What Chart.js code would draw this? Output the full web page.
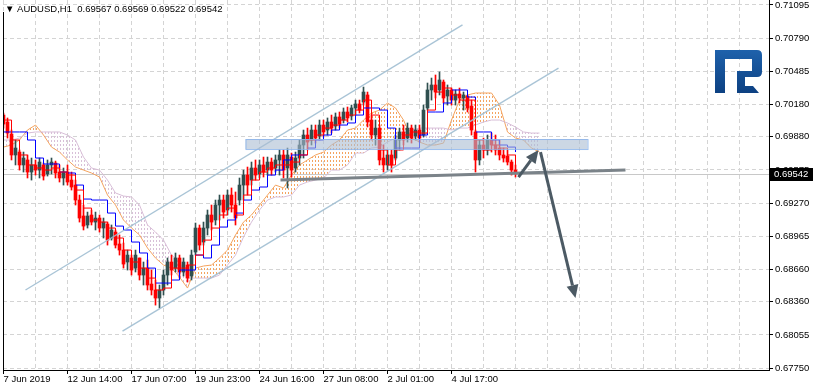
<!DOCTYPE html>
<html>
<head>
<meta charset="utf-8">
<script src="https://cdn.jsdelivr.net/npm/chart.js@4.4.1/dist/chart.umd.min.js"></script>
<style>
  html, body { margin: 0; padding: 0; background: #fff; }
  canvas { display: block; }
</style>
</head>
<body>
<canvas id="chart" width="815" height="391"></canvas>
<script>
// AUDUSD H1, every candle here stands for 4 hours of the window
const candleOpen = [
  0.70081, 0.70017, 0.69906, 0.69713, 0.69740, 0.69621, 0.69667, 0.69556, 0.69621, 0.69574,
  0.69621, 0.69538, 0.69621, 0.69639, 0.69556, 0.69501, 0.69556, 0.69482, 0.69436, 0.69298,
  0.69151, 0.69068, 0.69160, 0.69095, 0.69132, 0.69040, 0.69077, 0.68948, 0.69003, 0.68893,
  0.68837, 0.68727, 0.68764, 0.68671, 0.68764, 0.68607, 0.68671, 0.68524, 0.68469, 0.68395,
  0.68469, 0.68607, 0.68727, 0.68671, 0.68764, 0.68635, 0.68699, 0.68598, 0.68819, 0.69040,
  0.68911, 0.69040, 0.69160, 0.69114, 0.69252, 0.69298, 0.69206, 0.69344, 0.69252, 0.69298,
  0.69436, 0.69528, 0.69482, 0.69593, 0.69538, 0.69621, 0.69574, 0.69648, 0.69593, 0.69667,
  0.69713, 0.69593, 0.69694, 0.69593, 0.69685, 0.69805, 0.69897, 0.69851, 0.69943, 0.69888,
  0.69989, 0.69943, 0.70017, 0.69980, 0.70063, 0.70035, 0.70109, 0.70072, 0.70146, 0.70183,
  0.70201, 0.70266, 0.70035, 0.69897, 0.69961, 0.69685, 0.69621, 0.69713, 0.69685, 0.69851,
  0.69925, 0.69869, 0.69961, 0.69888, 0.69943, 0.69897, 0.70146, 0.70312, 0.70358, 0.70312,
  0.70385, 0.70256, 0.70312, 0.70219, 0.70275, 0.70238, 0.70256, 0.70164, 0.69925, 0.69667,
  0.69805, 0.69759, 0.69851, 0.69805, 0.69777, 0.69713, 0.69703, 0.69648, 0.69574
];
const candleHigh = [
  0.70100, 0.70054, 0.69943, 0.69851, 0.69759, 0.69740, 0.69713, 0.69685, 0.69667, 0.69685,
  0.69639, 0.69667, 0.69685, 0.69657, 0.69621, 0.69593, 0.69621, 0.69556, 0.69482, 0.69344,
  0.69252, 0.69187, 0.69206, 0.69187, 0.69160, 0.69132, 0.69095, 0.69068, 0.69022, 0.68976,
  0.68902, 0.68837, 0.68791, 0.68837, 0.68764, 0.68727, 0.68745, 0.68653, 0.68561, 0.68515,
  0.68653, 0.68764, 0.68791, 0.68810, 0.68791, 0.68764, 0.68727, 0.68837, 0.69086, 0.69068,
  0.69095, 0.69206, 0.69252, 0.69298, 0.69344, 0.69344, 0.69390, 0.69409, 0.69372, 0.69501,
  0.69574, 0.69602, 0.69648, 0.69667, 0.69667, 0.69694, 0.69694, 0.69685, 0.69713, 0.69759,
  0.69759, 0.69777, 0.69731, 0.69740, 0.69851, 0.69943, 0.69961, 0.69989, 0.69989, 0.70035,
  0.70035, 0.70054, 0.70081, 0.70100, 0.70109, 0.70146, 0.70155, 0.70173, 0.70219, 0.70219,
  0.70339, 0.70293, 0.70081, 0.70035, 0.69989, 0.69805, 0.69759, 0.69759, 0.69897, 0.69961,
  0.69989, 0.70008, 0.69989, 0.69989, 0.69989, 0.70173, 0.70376, 0.70422, 0.70450, 0.70478,
  0.70404, 0.70358, 0.70330, 0.70312, 0.70330, 0.70293, 0.70266, 0.70219, 0.69943, 0.69851,
  0.69869, 0.69897, 0.69915, 0.69897, 0.69851, 0.69777, 0.69759, 0.69667, 0.69621
];
const candleLow = [
  0.69961, 0.69869, 0.69667, 0.69621, 0.69574, 0.69556, 0.69501, 0.69482, 0.69528, 0.69501,
  0.69482, 0.69519, 0.69538, 0.69501, 0.69464, 0.69436, 0.69436, 0.69390, 0.69252, 0.69095,
  0.69022, 0.69040, 0.69068, 0.69022, 0.69003, 0.68948, 0.68883, 0.68929, 0.68856, 0.68791,
  0.68671, 0.68653, 0.68607, 0.68635, 0.68561, 0.68515, 0.68469, 0.68423, 0.68330, 0.68303,
  0.68423, 0.68515, 0.68607, 0.68635, 0.68579, 0.68598, 0.68542, 0.68561, 0.68791, 0.68837,
  0.68883, 0.68976, 0.69022, 0.69068, 0.69114, 0.69132, 0.69160, 0.69187, 0.69068, 0.69252,
  0.69298, 0.69344, 0.69436, 0.69482, 0.69501, 0.69510, 0.69528, 0.69528, 0.69556, 0.69528,
  0.69501, 0.69409, 0.69510, 0.69556, 0.69621, 0.69685, 0.69759, 0.69805, 0.69823, 0.69851,
  0.69879, 0.69897, 0.69915, 0.69943, 0.69961, 0.70008, 0.70017, 0.70035, 0.70081, 0.70100,
  0.70173, 0.69971, 0.69851, 0.69805, 0.69621, 0.69556, 0.69574, 0.69556, 0.69667, 0.69759,
  0.69805, 0.69832, 0.69823, 0.69851, 0.69832, 0.69879, 0.70127, 0.70219, 0.70238, 0.70266,
  0.70192, 0.70173, 0.70173, 0.70173, 0.70192, 0.70127, 0.70109, 0.69897, 0.69556, 0.69621,
  0.69685, 0.69713, 0.69740, 0.69713, 0.69667, 0.69648, 0.69621, 0.69528, 0.69510
];
const candleClose = [
  0.69998, 0.69915, 0.69713, 0.69777, 0.69621, 0.69685, 0.69556, 0.69621, 0.69574, 0.69648,
  0.69519, 0.69621, 0.69648, 0.69547, 0.69501, 0.69556, 0.69464, 0.69418, 0.69298, 0.69132,
  0.69058, 0.69151, 0.69095, 0.69132, 0.69040, 0.69095, 0.68929, 0.69022, 0.68883, 0.68837,
  0.68708, 0.68791, 0.68653, 0.68791, 0.68607, 0.68671, 0.68515, 0.68469, 0.68395, 0.68469,
  0.68607, 0.68727, 0.68653, 0.68764, 0.68635, 0.68727, 0.68579, 0.68791, 0.69040, 0.68883,
  0.69040, 0.69160, 0.69095, 0.69252, 0.69298, 0.69187, 0.69344, 0.69252, 0.69132, 0.69436,
  0.69528, 0.69436, 0.69593, 0.69528, 0.69621, 0.69556, 0.69648, 0.69574, 0.69667, 0.69713,
  0.69574, 0.69713, 0.69574, 0.69685, 0.69805, 0.69897, 0.69832, 0.69943, 0.69869, 0.69989,
  0.69925, 0.70017, 0.69961, 0.70063, 0.69998, 0.70109, 0.70054, 0.70146, 0.70183, 0.70127,
  0.70293, 0.70017, 0.69897, 0.69961, 0.69667, 0.69621, 0.69713, 0.69621, 0.69851, 0.69925,
  0.69851, 0.69961, 0.69869, 0.69943, 0.69869, 0.70127, 0.70312, 0.70358, 0.70293, 0.70404,
  0.70238, 0.70312, 0.70219, 0.70275, 0.70238, 0.70266, 0.70146, 0.69943, 0.69667, 0.69805,
  0.69759, 0.69851, 0.69805, 0.69759, 0.69713, 0.69685, 0.69648, 0.69574, 0.69542
];
const candleHours = 4;

// ichimoku, one value every 8 hours; the cloud runs 26 hours past the last candle
const tenkan = [
  0.70035, 0.69851, 0.69713, 0.69621, 0.69593, 0.69574, 0.69593, 0.69556, 0.69528, 0.69390,
  0.69224, 0.69114, 0.69095, 0.69040, 0.68948, 0.68837, 0.68727, 0.68671, 0.68579, 0.68469,
  0.68487, 0.68671, 0.68671, 0.68699, 0.68791, 0.68929, 0.69040, 0.69160, 0.69224, 0.69160,
  0.69344, 0.69482, 0.69556, 0.69593, 0.69621, 0.69621, 0.69648, 0.69713, 0.69851, 0.69897,
  0.69961, 0.69989, 0.70035, 0.70081, 0.70127, 0.70219, 0.70081, 0.69759, 0.69621, 0.69759,
  0.69897, 0.69925, 0.69915, 0.70127, 0.70293, 0.70330, 0.70266, 0.70219, 0.70219, 0.69851,
  0.69759, 0.69805, 0.69777, 0.69713, 0.69621
];
const kijun = [
  0.69925, 0.69925, 0.69925, 0.69851, 0.69685, 0.69630, 0.69630, 0.69556, 0.69547, 0.69436,
  0.69307, 0.69298, 0.69298, 0.69178, 0.69058, 0.69022, 0.68911, 0.68810, 0.68671, 0.68533,
  0.68533, 0.68561, 0.68653, 0.68653, 0.68791, 0.68764, 0.68883, 0.69049, 0.69114, 0.69178,
  0.69298, 0.69390, 0.69418, 0.69528, 0.69574, 0.69667, 0.69713, 0.69713, 0.69777, 0.69851,
  0.69897, 0.69943, 0.69989, 0.70008, 0.70081, 0.70146, 0.70146, 0.70127, 0.69961, 0.69777,
  0.69777, 0.69777, 0.69897, 0.70109, 0.70109, 0.70192, 0.70312, 0.70312, 0.70247, 0.69925,
  0.69925, 0.69851, 0.69805, 0.69786, 0.69740
];
const senkouA = [
  0.69786, 0.69805, 0.69851, 0.69943, 0.69989, 0.69897, 0.69786, 0.69740, 0.69667, 0.69602,
  0.69574, 0.69547, 0.69510, 0.69344, 0.69252, 0.69114, 0.69040, 0.68976, 0.68856, 0.68764,
  0.68699, 0.68671, 0.68588, 0.68487, 0.68671, 0.68690, 0.68699, 0.68764, 0.68837, 0.68976,
  0.69095, 0.69160, 0.69252, 0.69344, 0.69436, 0.69409, 0.69528, 0.69621, 0.69667, 0.69713,
  0.69740, 0.69805, 0.69851, 0.69943, 0.69961, 0.70035, 0.70100, 0.70127, 0.70192, 0.70146,
  0.70035, 0.69869, 0.69832, 0.69805, 0.69805, 0.69823, 0.70035, 0.70219, 0.70266, 0.70284,
  0.70284, 0.70284, 0.70173, 0.69925, 0.69869, 0.69851, 0.69777, 0.69740
];
const senkouB = [
  0.69851, 0.69851, 0.69869, 0.69915, 0.69925, 0.69925, 0.69925, 0.69925, 0.69897, 0.69851,
  0.69694, 0.69593, 0.69574, 0.69482, 0.69363, 0.69335, 0.69326, 0.69252, 0.69068, 0.69003,
  0.68929, 0.68791, 0.68727, 0.68579, 0.68579, 0.68579, 0.68579, 0.68607, 0.68699, 0.68791,
  0.68957, 0.69095, 0.69206, 0.69298, 0.69326, 0.69326, 0.69344, 0.69436, 0.69464, 0.69482,
  0.69501, 0.69574, 0.69574, 0.69621, 0.69731, 0.69731, 0.69777, 0.69786, 0.69832, 0.69869,
  0.69915, 0.69943, 0.69961, 0.69961, 0.69961, 0.69961, 0.69943, 0.69961, 0.69961, 0.69989,
  0.70017, 0.70035, 0.70035, 0.70008, 0.69971, 0.69925, 0.69915, 0.69915
];
const lineHours = 8;

const xGridHours = [0, 32, 64, 96, 128, 160, 192, 224, 256, 288, 320, 352, 384, 416, 448, 480,
  512, 544, 576, 608, 640, 672, 704, 736];
const xTickHours = [0, 64, 128, 192, 256, 320, 384, 448];
const xTickLabels = ['7 Jun 2019', '12 Jun 14:00', '17 Jun 07:00', '19 Jun 23:00', '24 Jun 16:00',
  '27 Jun 08:00', '2 Jul 01:00', '4 Jul 17:00'];
const yTickValues = [0.71095, 0.70790, 0.70485, 0.70180, 0.69880, 0.69575, 0.69270, 0.68965,
  0.68660, 0.68360, 0.68055, 0.67750];
const lastBar = { open: 0.69567, high: 0.69569, low: 0.69522, close: 0.69542 };

// analyst drawings, as [hour, price]
const channelUpper = [[22, 0.68469], [459, 0.70911]];
const channelLower = [[119, 0.68091], [555, 0.70514]];
const supportLine = [[277, 0.69482], [622, 0.69574]];
const resistanceBox = [[242, 0.69860], [584, 0.69768]];
const arrowUp = [[515, 0.69510], [535, 0.69759]];
const arrowDown = [[537, 0.69740], [572, 0.68395]];

const FONT = '"Liberation Sans", Arial, sans-serif';
const BULL = '#2f4f4f';
const BEAR = '#ff0000';

const canvas = document.getElementById('chart');
const ctx = canvas.getContext('2d');

// dotted vertical hatch like the terminal draws inside the cloud
function hatch(color) {
  const c = document.createElement('canvas');
  c.width = 3; c.height = 4;
  const g = c.getContext('2d');
  g.fillStyle = color;
  g.fillRect(0, 0, 1, 2);
  return ctx.createPattern(c, 'repeat');
}

const candleColor = (c) => {
  const i = c.dataIndex;
  return candleClose[i] >= candleOpen[i] ? BULL : BEAR;
};

const wicks = candleOpen.map((o, i) => ({ x: i * candleHours, y: [candleLow[i], candleHigh[i]] }));
const bodies = candleOpen.map((o, i) => ({ x: i * candleHours, y: [o, candleClose[i]] }));
const asPoints = (arr) => arr.map((v, i) => ({ x: i * lineHours, y: v }));

const px = (chart, p) => ({ x: chart.scales.x.getPixelForValue(p[0]), y: chart.scales.y.getPixelForValue(p[1]) });

function drawArrow(c, a, b, color) {
  const ang = Math.atan2(b.y - a.y, b.x - a.x);
  const head = 13, half = 6;
  const bx = b.x - Math.cos(ang) * head, by = b.y - Math.sin(ang) * head;
  c.strokeStyle = color;
  c.fillStyle = color;
  c.lineWidth = 3;
  c.lineCap = 'butt';
  c.beginPath();
  c.moveTo(a.x, a.y);
  c.lineTo(bx, by);
  c.stroke();
  c.beginPath();
  c.moveTo(b.x, b.y);
  c.lineTo(bx + Math.sin(ang) * half, by - Math.cos(ang) * half);
  c.lineTo(bx - Math.sin(ang) * half, by + Math.cos(ang) * half);
  c.closePath();
  c.fill();
}

function drawLogo(c) {
  const g = c.createLinearGradient(0, 48, 0, 95);
  g.addColorStop(0, '#1f63ad');
  g.addColorStop(1, '#0c3f80');
  c.fillStyle = g;
  c.beginPath();
  c.moveTo(715, 50);
  c.lineTo(757, 50);
  c.quadraticCurveTo(762, 50, 762, 55);
  c.lineTo(762, 72);
  c.quadraticCurveTo(762, 77, 757, 77);
  c.lineTo(745, 77);
  c.lineTo(745, 86);
  c.lineTo(753, 86);
  c.lineTo(759, 93);
  c.lineTo(737, 93);
  c.lineTo(737, 71);
  c.lineTo(752, 71);
  c.lineTo(752, 59);
  c.lineTo(725, 59);
  c.lineTo(725, 93);
  c.lineTo(715, 93);
  c.closePath();
  c.fill();
}

const overlay = {
  id: 'overlay',
  beforeDatasetsDraw(chart) {
    const c = chart.ctx, a = chart.chartArea;
    const y = Math.round(chart.scales.y.getPixelForValue(lastBar.close)) + 0.5;
    c.save();
    c.strokeStyle = '#c8c8c8';
    c.lineWidth = 1;
    c.beginPath();
    c.moveTo(a.left, y);
    c.lineTo(a.right, y);
    c.stroke();
    c.restore();
  },
  afterDatasetsDraw(chart) {
    const c = chart.ctx, a = chart.chartArea;
    c.save();
    c.beginPath();
    c.rect(a.left, a.top, a.right - a.left, a.bottom - a.top);
    c.clip();

    c.strokeStyle = 'rgba(160,190,210,0.9)';
    c.lineWidth = 1.4;
    [channelUpper, channelLower].forEach(l => {
      const p0 = px(chart, l[0]), p1 = px(chart, l[1]);
      c.beginPath(); c.moveTo(p0.x, p0.y); c.lineTo(p1.x, p1.y); c.stroke();
    });

    const b0 = px(chart, resistanceBox[0]), b1 = px(chart, resistanceBox[1]);
    c.fillStyle = 'rgba(170,188,210,0.6)';
    c.fillRect(b0.x, b0.y, b1.x - b0.x, b1.y - b0.y);
    c.strokeStyle = 'rgba(140,180,235,0.85)';
    c.lineWidth = 1;
    c.strokeRect(b0.x + 0.5, b0.y + 0.5, b1.x - b0.x, b1.y - b0.y);

    const s0 = px(chart, supportLine[0]), s1 = px(chart, supportLine[1]);
    c.strokeStyle = '#7b8389';
    c.lineWidth = 3;
    c.beginPath(); c.moveTo(s0.x, s0.y); c.lineTo(s1.x, s1.y); c.stroke();

    drawArrow(c, px(chart, arrowUp[0]), px(chart, arrowUp[1]), '#4c5a64');
    drawArrow(c, px(chart, arrowDown[0]), px(chart, arrowDown[1]), '#4c5a64');
    c.restore();

    // left frame line
    c.save();
    c.strokeStyle = '#000';
    c.lineWidth = 1;
    c.beginPath();
    c.moveTo(a.left + 0.5, a.top + 12);
    c.lineTo(a.left + 0.5, a.bottom);
    c.stroke();
    c.restore();
  },
  afterDraw(chart) {
    const c = chart.ctx;
    c.save();
    drawLogo(c);

    c.fillStyle = '#000';
    c.font = '9.5px ' + FONT;
    c.textBaseline = 'middle';
    c.fillText('\u25BC AUDUSD,H1  ' + lastBar.open.toFixed(5) + ' ' + lastBar.high.toFixed(5) + ' ' +
      lastBar.low.toFixed(5) + ' ' + lastBar.close.toFixed(5), 5, 9);

    const y = Math.round(chart.scales.y.getPixelForValue(lastBar.close));
    c.fillStyle = '#000';
    c.fillRect(770, y - 6, 43, 13);
    c.fillStyle = '#fff';
    c.fillText(lastBar.close.toFixed(5), 774, y + 0.5);
    c.restore();
  }
};

new Chart(ctx, {
  data: {
    datasets: [
      {
        type: 'line', label: 'Senkou A', data: asPoints(senkouA),
        borderColor: '#f4a460', borderWidth: 1, pointRadius: 0, tension: 0,
        fill: { target: '+1', above: hatch('#f4a460'), below: hatch('#d8bfd8') },
        order: 6
      },
      {
        type: 'line', label: 'Senkou B', data: asPoints(senkouB),
        borderColor: '#d8bfd8', borderWidth: 1, pointRadius: 0, tension: 0, fill: false,
        order: 5
      },
      {
        type: 'bar', label: 'wick', data: wicks,
        backgroundColor: candleColor, barThickness: 1, grouped: false, order: 4
      },
      {
        type: 'bar', label: 'body', data: bodies,
        backgroundColor: candleColor, barThickness: 3, grouped: false, order: 3
      },
      {
        type: 'line', label: 'Kijun', data: asPoints(kijun),
        borderColor: '#0000ff', borderWidth: 1, pointRadius: 0, stepped: true, fill: false,
        order: 2
      },
      {
        type: 'line', label: 'Tenkan', data: asPoints(tenkan),
        borderColor: '#ff0000', borderWidth: 1, pointRadius: 0, stepped: true, fill: false,
        order: 1
      }
    ]
  },
  options: {
    responsive: false,
    animation: false,
    devicePixelRatio: 1,
    layout: { padding: { left: 3, right: 0, top: 0, bottom: 0 } },
    plugins: { legend: { display: false }, tooltip: { enabled: false } },
    scales: {
      x: {
        type: 'linear',
        min: -0.5,
        max: 765.5,
        offset: false,
        afterBuildTicks: (s) => { s.ticks = xGridHours.map(v => ({ value: v })); },
        afterFit: (s) => { s.height = 21; s.paddingLeft = 0; s.paddingRight = 0; },
        grid: {
          offset: false,
          color: '#d4d4d4',
          tickLength: 4,
          tickColor: (c) => (c.tick && xTickHours.includes(c.tick.value)) ? '#000' : 'rgba(0,0,0,0)'
        },
        border: { display: true, color: '#000', width: 1, dash: [4, 3] },
        ticks: {
          autoSkip: false,
          maxRotation: 0,
          align: 'start',
          padding: 0,
          color: '#000',
          font: { family: FONT, size: 9.5 },
          callback: (v) => {
            const k = xTickHours.indexOf(v);
            return k >= 0 ? xTickLabels[k] : '';
          }
        }
      },
      y: {
        type: 'linear',
        position: 'right',
        min: 0.67732,
        max: 0.71141,
        beginAtZero: false,
        afterBuildTicks: (s) => { s.ticks = yTickValues.map(v => ({ value: v })); },
        afterFit: (s) => { s.width = 46; s.paddingTop = 0; s.paddingBottom = 0; },
        grid: { color: '#d4d4d4', tickLength: 4, tickColor: '#000' },
        border: { display: true, color: '#000', width: 1, dash: [4, 3] },
        ticks: {
          padding: 2,
          color: '#000',
          font: { family: FONT, size: 9.5 },
          callback: (v) => v.toFixed(5)
        }
      }
    }
  },
  plugins: [overlay]
});
</script>
</body>
</html>
